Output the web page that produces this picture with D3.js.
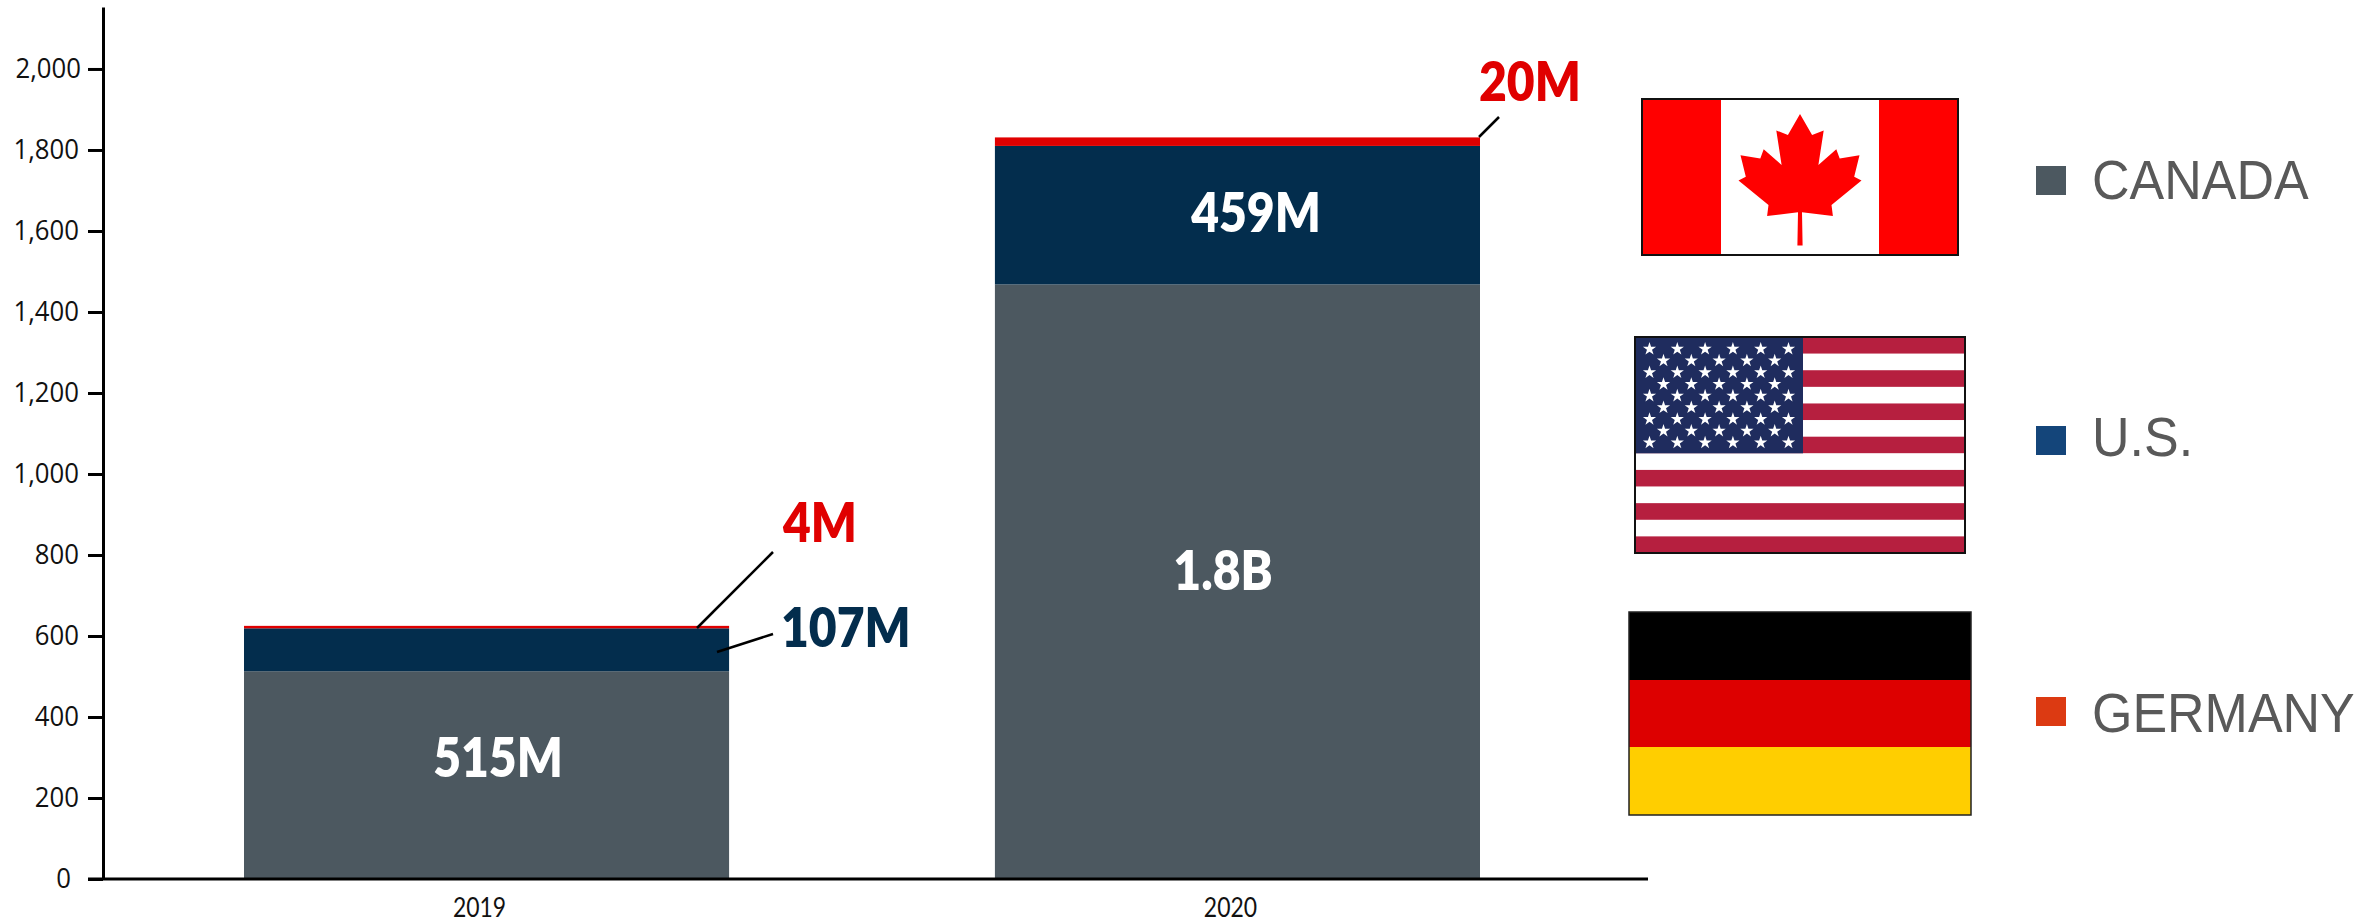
<!DOCTYPE html>
<html>
<head>
<meta charset="utf-8">
<script src="https://cdn.jsdelivr.net/npm/d3@7"></script>
<style>
	html, body { margin: 0; padding: 0; background: #fff; }
	svg { display: block; }
</style>
</head>
<body>
<div id="viz"></div>
<script>
var years = ['2019', '2020'];
var yTicks = [0, 200, 400, 600, 800, 1000, 1200, 1400, 1600, 1800, 2000];
var seriesNames = ['CANADA', 'U.S.', 'GERMANY'];
// bar heights as drawn on the axis (the printed labels do not always agree with them)
var canada = [513, 1468];
var us = [106, 342];
var germany = [6, 21];
var labelsCanada = ['515M', '1.8B'];
var labelsUs = ['107M', '459M'];
var labelsGermany = ['4M', '20M'];

var w = 2379, h = 923;

var colors = {canada: '#4c5860', us: '#032d4d', germany: '#e00000'};
var legendColors = ['#4c5860', '#14457a', '#dc3a12'];

var svg = d3.select('#viz').append('svg')
	.attr('width', w)
	.attr('height', h);

var x = d3.scaleBand().domain(years).range([244, 1480]).paddingInner(0.354);
var y = d3.scaleLinear().domain([0, 2153]).range([879, 7]);

var stack = d3.stack().keys([0, 1, 2]).value(function (d, key) { return d[key]; });
var rows = years.map(function (yr, i) { return [canada[i], us[i], germany[i]]; });
var layers = stack(rows);
var barColors = [colors.canada, colors.us, colors.germany];

svg.selectAll('.layer')
	.data(layers)
	.enter().append('g')
	.attr('class', 'layer')
	.attr('fill', function (d, i) { return barColors[i]; })
	.selectAll('rect')
	.data(function (d) { return d; })
	.enter().append('rect')
	.attr('x', function (d, i) { return x(years[i]); })
	.attr('width', x.bandwidth())
	.attr('y', function (d) { return y(d[1]); })
	.attr('height', function (d) { return y(d[0]) - y(d[1]); });

// y axis, labels are narrower than any font we have so squeeze them
var tickSqueeze = 0.92;
var yAxis = svg.append('g')
	.attr('transform', 'translate(103,0)')
	.call(d3.axisLeft(y).tickValues(yTicks).tickSize(15).tickSizeOuter(0).tickFormat(d3.format(',')));
yAxis.select('.domain').attr('stroke', '#000').attr('stroke-width', 3);
yAxis.selectAll('.tick line').attr('stroke', '#000').attr('stroke-width', 3);
yAxis.selectAll('.tick text')
	.attr('fill', '#111')
	.attr('x', function (d) {
		if (d === 0) return -32 / tickSqueeze;
		if (d === 2000) return -22 / tickSqueeze;
		return -24 / tickSqueeze;
	})
	.attr('transform', 'scale(' + tickSqueeze + ',1)')
	.style('font-family', '"Open Sans", sans-serif')
	.style('font-size', '28px');

// x axis
var xAxis = svg.append('g')
	.attr('transform', 'translate(-7,879)')
	.call(d3.axisBottom(x).tickSize(0).tickPadding(19));
xAxis.select('.domain').remove();
xAxis.selectAll('.tick text')
	.attr('fill', '#111')
	.attr('transform', 'scale(0.85,1)')
	.style('font-family', 'Lato, sans-serif')
	.style('font-size', '27px');

svg.append('line')
	.attr('x1', 88).attr('x2', 1648)
	.attr('y1', y(0)).attr('y2', y(0))
	.attr('stroke', '#000').attr('stroke-width', 3);

// value labels
function barLabel(txt, xp, yp, color, anchor) {
	svg.append('text')
		.attr('transform', 'translate(' + xp + ',' + yp + ') scale(0.89,1)')
		.attr('text-anchor', anchor || 'middle')
		.attr('fill', color)
		.style('font-family', 'Lato, sans-serif')
		.style('font-weight', 800)
		.style('font-size', '54px')
		.text(txt);
}
barLabel(labelsCanada[0], 498, 777, '#fff');
barLabel(labelsCanada[1], 1223, 590, '#fff');
barLabel(labelsUs[1], 1256, 232, '#fff');
barLabel(labelsUs[0], 781, 647, colors.us, 'start');
barLabel(labelsGermany[0], 783, 542, colors.germany, 'start');
barLabel(labelsGermany[1], 1479, 101, colors.germany, 'start');

// leader lines
var leaders = [[697, 628, 773, 552], [717, 652, 773, 634], [1479, 137, 1499, 117]];
svg.selectAll('.leader')
	.data(leaders)
	.enter().append('line')
	.attr('class', 'leader')
	.attr('x1', function (d) { return d[0]; })
	.attr('y1', function (d) { return d[1]; })
	.attr('x2', function (d) { return d[2]; })
	.attr('y2', function (d) { return d[3]; })
	.attr('stroke', '#000')
	.attr('stroke-width', 2.5);

// legend
var legendY = [166, 426, 697];
var legendBase = [199, 456, 732];
seriesNames.forEach(function (name, i) {
	svg.append('rect')
		.attr('x', 2036).attr('y', legendY[i])
		.attr('width', 30).attr('height', 29)
		.attr('fill', legendColors[i]);
	svg.append('text')
		.attr('transform', 'translate(2092,' + legendBase[i] + ') scale(0.945,1)')
		.attr('fill', '#595959')
		.style('font-family', '"Liberation Sans", Arial, sans-serif')
		.style('font-size', '55px')
		.text(name);
});

function box(g, x0, y0, wd, ht, fill) {
	return g.append('rect').attr('x', x0).attr('y', y0).attr('width', wd).attr('height', ht).attr('fill', fill);
}

// canada flag
var ca = svg.append('g').attr('transform', 'translate(1642,99)');
box(ca, 0, 0, 316, 156, '#f00');
box(ca, 79, 0, 158, 156, '#fff');
var half = [[0, 0], [12.1, 21.1], [23.7, 16.4], [18.4, 51], [36.3, 35.2], [39.7, 44.6], [59.5, 41.3],
	[54.2, 62.8], [61.5, 66.4], [31.5, 90.9], [32.9, 102], [2, 98.3], [2.6, 131.5]];
var leaf = half.concat(half.slice(1).reverse().map(function (p) { return [-p[0], p[1]]; }));
ca.append('path')
	.attr('transform', 'translate(158,15)')
	.attr('d', d3.line()(leaf) + 'Z')
	.attr('fill', '#f00');
box(ca, 0, 0, 316, 156, 'none').attr('stroke', '#111').attr('stroke-width', 2);

// us flag
var usFlag = svg.append('g').attr('transform', 'translate(1635,337)');
var stripeH = 216 / 13;
d3.range(13).forEach(function (i) {
	box(usFlag, 0, i * stripeH, 330, stripeH + 0.3, i % 2 ? '#fff' : '#b61f3f');
});
box(usFlag, 0, 0, 168, stripeH * 7, '#1f2c5e');
var star = d3.symbol().type(d3.symbolStar).size(54)();
d3.range(9).forEach(function (r) {
	var n = r % 2 ? 5 : 6;
	d3.range(n).forEach(function (c) {
		usFlag.append('path')
			.attr('d', star)
			.attr('fill', '#fff')
			.attr('transform', 'translate(' + (14.5 + (r % 2 ? 14 : 0) + c * 27.8) + ',' + (12 + r * 11.7) + ')');
	});
});
box(usFlag, 0, 0, 330, 216, 'none').attr('stroke', '#111').attr('stroke-width', 2);

// germany flag
var de = svg.append('g').attr('transform', 'translate(1629,612)');
box(de, 0, 0, 342, 68, '#000');
box(de, 0, 68, 342, 67, '#dd0000');
box(de, 0, 135, 342, 68, '#ffce00');
box(de, 0, 0, 342, 203, 'none').attr('stroke', '#222').attr('stroke-width', 1.5);
</script>
</body>
</html>
